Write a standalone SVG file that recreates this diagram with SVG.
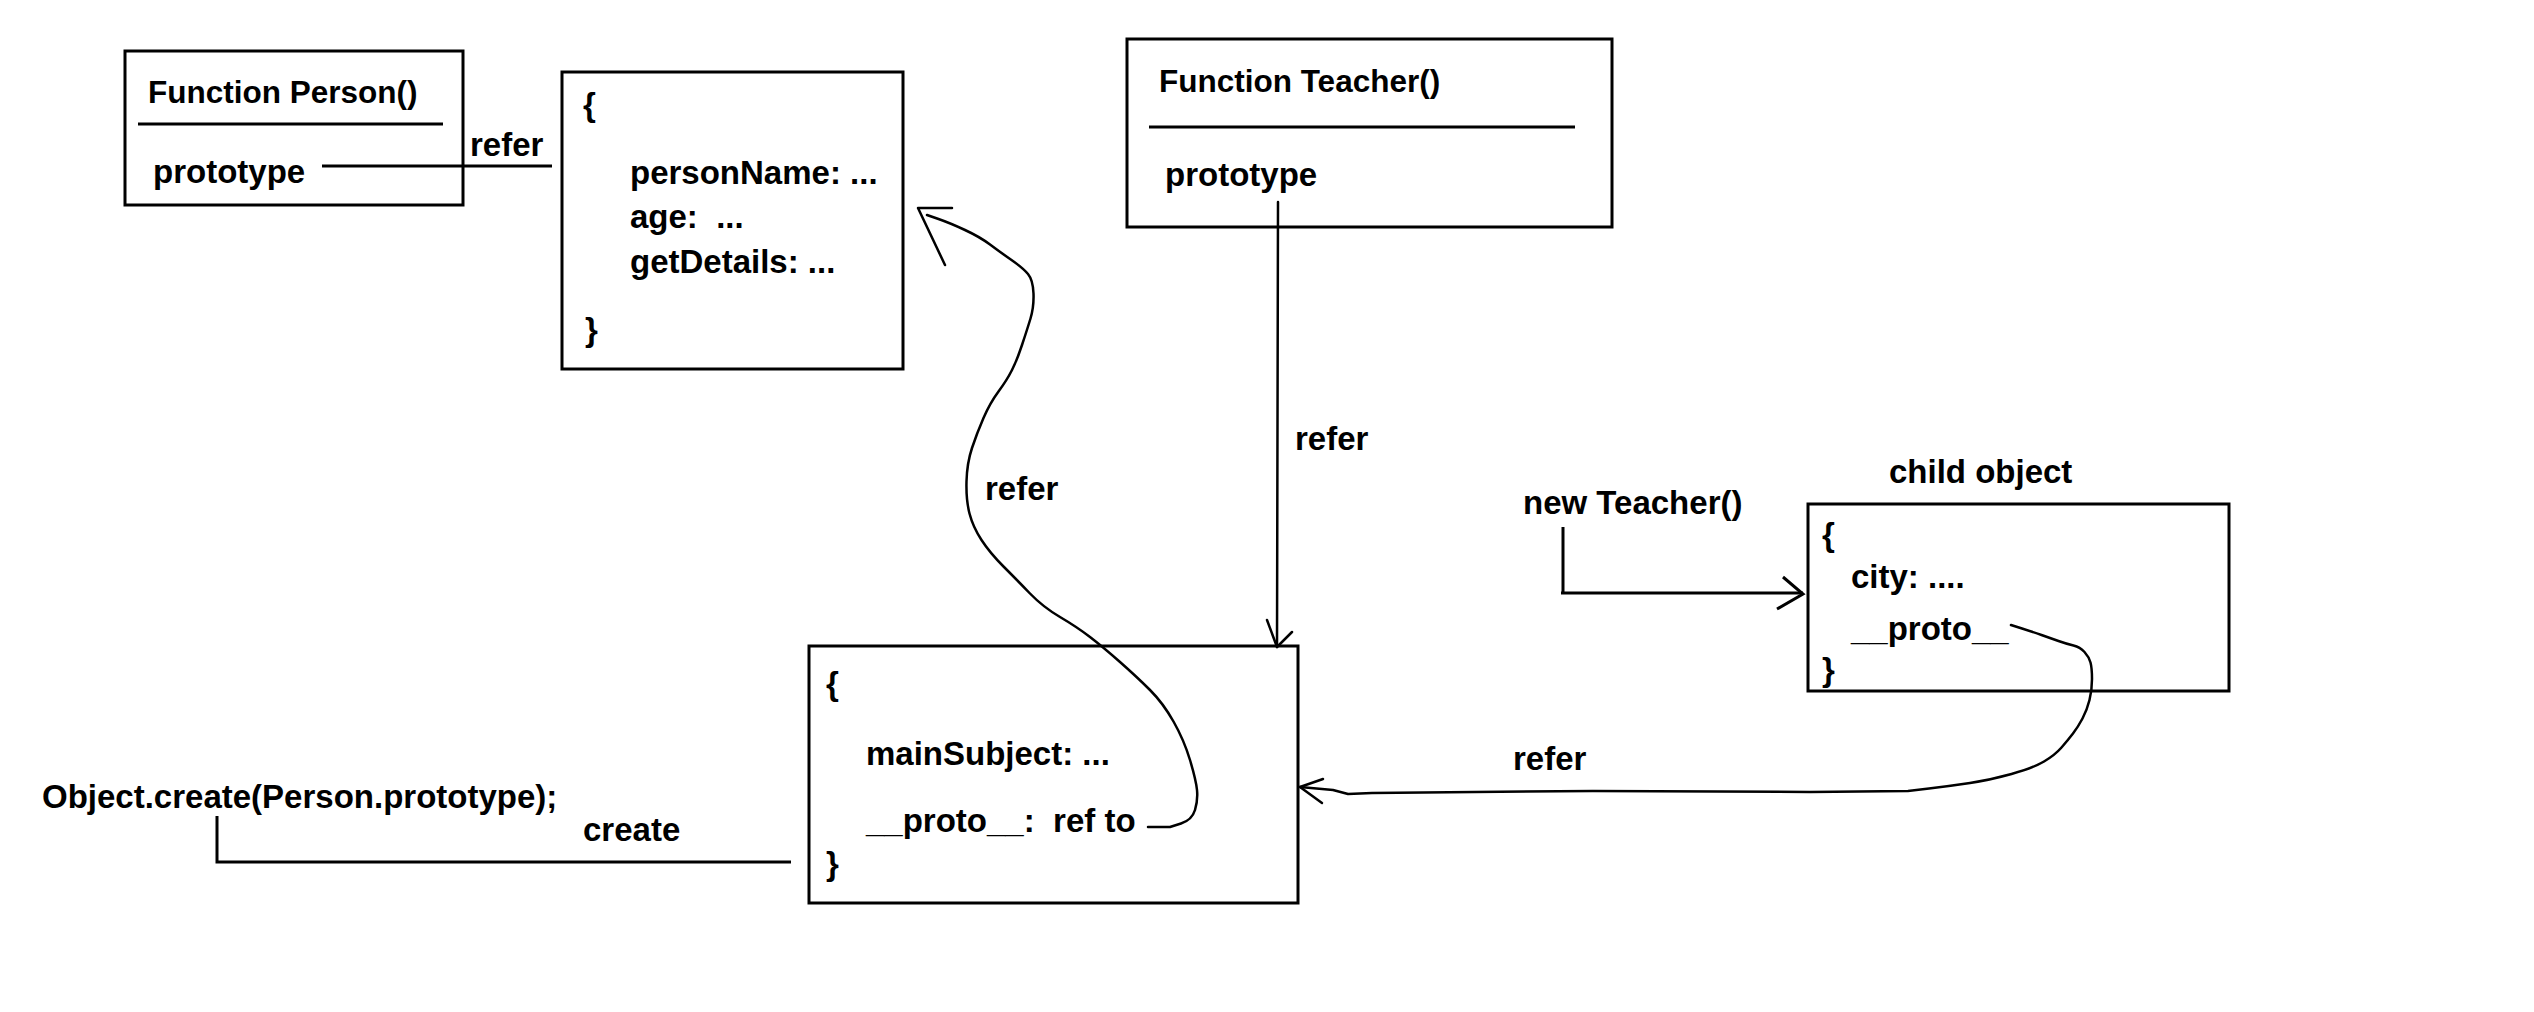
<svg xmlns="http://www.w3.org/2000/svg" width="2534" height="1012" viewBox="0 0 2534 1012">
<style>
.box{fill:none;stroke:#000;stroke-width:3}
.t{font-family:"Liberation Sans",Arial,sans-serif;font-weight:bold;font-size:33px;fill:#000;white-space:pre}
.s{font-size:31.5px}
.ln{fill:none;stroke:#000;stroke-width:3}
.cv{fill:none;stroke:#000;stroke-width:2.5;stroke-linejoin:round;stroke-linecap:round}
</style>
<rect width="2534" height="1012" fill="#fff"/>

<g id="person-function">
<rect class="box" x="125" y="51" width="338" height="154"/>
<text class="t s" x="148" y="103">Function Person()</text>
<line class="ln" x1="138" y1="124" x2="443" y2="124"/>
<text class="t" x="153" y="183">prototype</text>
</g>

<g id="person-prototype-object">
<rect class="box" x="562" y="72" width="341" height="297"/>
<text class="t" x="583" y="116">{</text>
<text class="t" x="630" y="184">personName: ...</text>
<text class="t" x="630" y="228">age:  ...</text>
<text class="t" x="630" y="273">getDetails: ...</text>
<text class="t" x="585" y="341">}</text>
</g>

<g id="teacher-function">
<rect class="box" x="1127" y="39" width="485" height="188"/>
<text class="t s" x="1159" y="92">Function Teacher()</text>
<line class="ln" x1="1149" y1="127" x2="1575" y2="127"/>
<text class="t" x="1165" y="186">prototype</text>
</g>

<g id="teacher-prototype-object">
<rect class="box" x="809" y="646" width="489" height="257"/>
<text class="t" x="826" y="695">{</text>
<text class="t" x="866" y="765">mainSubject: ...</text>
<text class="t" x="866" y="832">__proto__:  ref to</text>
<text class="t" x="826" y="875">}</text>
</g>

<g id="child-object">
<text class="t" x="1889" y="483">child object</text>
<rect class="box" x="1808" y="504" width="421" height="187"/>
<text class="t" x="1822" y="546">{</text>
<text class="t" x="1851" y="588">city: ....</text>
<text class="t" x="1851" y="640">__proto__</text>
<text class="t" x="1822" y="681">}</text>
</g>

<g id="object-create">
<text class="t" x="42" y="808">Object.create(Person.prototype);</text>
</g>

<g id="new-teacher">
<text class="t" x="1523" y="514">new Teacher()</text>
</g>

<g id="connectors">
<line class="ln" x1="322" y1="166" x2="552" y2="166"/>
<text class="t" x="470" y="156">refer</text>

<line class="cv" x1="1278" y1="202" x2="1277" y2="647"/>
<path class="cv" d="M1267,620 L1277,647 L1292,632"/>
<text class="t" x="1295" y="450">refer</text>

<path class="cv" d="M1148,827 L1170,827 L1181,823.5 Q1192,820 1195,810 Q1198,800 1197,790 Q1196,780 1190,760 Q1184,740 1173.5,721.5 Q1163,703 1150,690 Q1137,677 1120,662 Q1103,647 1090,637 Q1077,627 1060,617 Q1043,607 1030,593.5 Q1017,580 1003.5,566.5 Q990,553 981.5,540 Q973,527 969.5,513.5 Q966,500 966.5,481.5 Q967,463 972,448 Q977,433 983.5,418 Q990,403 998.5,391.5 Q1007,380 1012,370 Q1017,360 1022,345 Q1027,330 1030.5,318.5 Q1034,307 1033.5,293.5 Q1033,280 1028,274 Q1023,268 1011.5,260 Q1000,252 990,244.5 Q980,237 965,230 Q950,223 938.5,219 L927,215"/>
<path class="cv" d="M952,208 L918,208 L945,265"/>
<text class="t" x="985" y="500">refer</text>

<path class="ln" d="M217,816 L217,862 L791,862"/>
<text class="t" x="583" y="841">create</text>

<path class="ln" d="M1563,527 L1563,593 M1561,593 L1803,593"/>
<path class="ln" d="M1783,577 L1803,594 L1777,609"/>

<path class="cv" d="M2011,625 L2022,628.5 Q2033,632 2041.5,635 Q2050,638 2058.5,641 Q2067,644 2073.5,645.5 Q2080,647 2084.5,652 Q2089,657 2090.5,662.5 Q2092,668 2092,679 Q2092,690 2089.5,700 Q2087,710 2082.5,718.5 Q2078,727 2073,733.5 Q2068,740 2061.5,747.5 Q2055,755 2044,761.5 Q2033,768 2011.5,774 Q1990,780 1970,783 Q1950,786 1929,788.5 L1908,791 L1810,792 L1593,791 L1372,793 L1348,794 L1333,790 L1300,787"/>
<path class="cv" d="M1323,779 L1300,787 L1322,803"/>
<text class="t" x="1513" y="770">refer</text>
</g>
</svg>
